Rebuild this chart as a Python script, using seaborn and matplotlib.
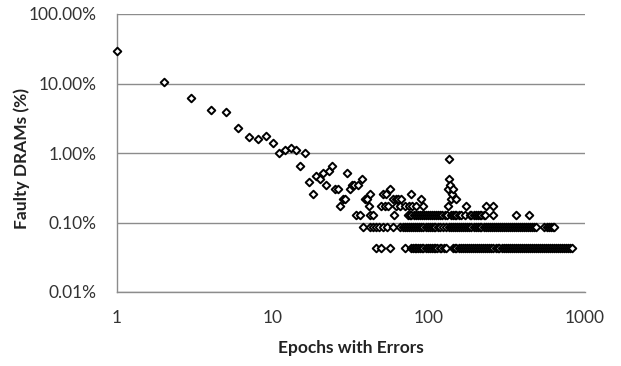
import numpy as np
import pandas as pd
import matplotlib
matplotlib.use("Agg")
import matplotlib.pyplot as plt
import seaborn as sns
from matplotlib.ticker import FixedLocator, NullLocator, FuncFormatter

# early epochs, each with its own value (% of faulty DRAMs)
ep_early = [1, 2, 3, 4, 5, 6, 7, 8, 9, 10, 11, 12, 13, 14, 15, 16, 17, 18, 19, 20,
            21, 22, 23, 24, 25, 26, 27, 28, 29, 30, 31, 32, 33, 35, 37]
pct_early = [29.6, 10.5, 6.1, 4.2, 3.9, 2.3, 1.7, 1.6, 1.75, 1.37, 1.0, 1.1, 1.17, 1.1,
             0.64, 0.99, 0.386, 0.258, 0.472, 0.429, 0.515, 0.343, 0.558, 0.644, 0.30,
             0.30, 0.172, 0.215, 0.215, 0.515, 0.30, 0.343, 0.343, 0.343, 0.429]

# spike around 134 epochs
ep_spike = [133, 134, 135, 136]
pct_spike = [0.30, 0.815, 0.429, 0.343]

# quantized levels (1..7 DRAMs out of the population), in %
levels = [0.0429, 0.0858, 0.1288, 0.1717, 0.2146, 0.2575, 0.3004]

ep_lvl1 = [46, 49, 56, 70, 77, 79, 81, 83, 85, 87, 90, 92, 95, 98, 101, 104, 107, 110,
           113, 117, 120, 124, 128,
           142, 146, 150, 155, 160, 165, 170, 175, 180, 186, 192, 198, 204, 210, 216,
           223, 230, 237, 244, 251, 259, 267, 275, 283, 292, 301, 310, 319, 329, 339,
           349, 359, 370, 381, 392, 404, 416, 429, 442, 455, 469, 483, 497, 512, 527,
           543, 559, 576, 593, 611, 629, 648, 667, 687, 708, 729, 751, 773, 796, 820]
ep_lvl2 = [38, 42, 44, 46, 48, 51, 54, 59, 65,
           68, 70, 72, 74, 77, 79, 81, 84, 86, 89, 92, 95, 98, 101, 104, 107, 110, 114,
           118, 123, 128,
           135, 139, 143, 147, 152, 156, 161, 166, 171, 176, 181, 187, 193, 199, 205,
           211, 217, 224, 231, 238, 245, 252, 260, 268, 276, 284, 293, 302, 311, 320,
           330, 340, 350, 361, 372, 383, 395, 407, 419, 432, 445, 458, 472, 487,
           550, 567, 584, 601, 619, 635]
ep_lvl3 = [34, 36, 42, 44, 60,
           73, 75, 77, 80, 82, 85, 87, 90, 93, 96, 99, 102, 105, 108, 111, 115, 118,
           122, 126, 130, 138, 142, 146, 150, 156, 161, 169,
           182, 187, 193, 199, 205, 211, 217, 224, 227, 257, 359, 437]
ep_lvl4 = [41, 49, 52, 55, 61, 65, 70, 74, 78, 83, 92, 132, 173, 233, 257]
ep_lvl5 = [39, 40, 59, 61, 63, 66, 89, 138, 149]
ep_lvl6 = [42, 51, 53, 77, 141]
ep_lvl7 = [56, 142]

ep_levels = [ep_lvl1, ep_lvl2, ep_lvl3, ep_lvl4, ep_lvl5, ep_lvl6, ep_lvl7]

rows = list(zip(ep_early, pct_early)) + list(zip(ep_spike, pct_spike))
for lv, eps in zip(levels, ep_levels):
    rows += [(e, lv) for e in eps]
df = pd.DataFrame(rows, columns=["epochs", "pct"])

sns.set_style("white")
plt.rcParams["font.family"] = ["Lato", "DejaVu Sans"]

fig = plt.figure(figsize=(6.21, 3.66), dpi=100)
ax = fig.add_axes([117 / 621, 1 - 292 / 366, 468 / 621, 278 / 366])

sns.scatterplot(data=df, x="epochs", y="pct", marker="D", s=15, facecolor="white",
                edgecolor="black", linewidth=1.4, ax=ax, zorder=3, clip_on=False)

ax.set_xscale("log")
ax.set_yscale("log")
ax.set_xlim(1, 1000)
ax.set_ylim(0.01, 100)

grey = "#8c8c8c"
ax.xaxis.set_major_locator(FixedLocator([1, 10, 100, 1000]))
ax.xaxis.set_minor_locator(NullLocator())
ax.xaxis.set_major_formatter(FuncFormatter(lambda v, p: f"{v:g}"))
ax.yaxis.set_major_locator(FixedLocator([0.01, 0.1, 1, 10, 100]))
ax.yaxis.set_minor_locator(NullLocator())
ax.yaxis.set_major_formatter(FuncFormatter(lambda v, p: f"{v:.2f}%"))

ax.grid(axis="y", color=grey, linewidth=1.0)
ax.set_axisbelow(True)
for s in ["top", "right"]:
    ax.spines[s].set_visible(False)
for s in ["left", "bottom"]:
    ax.spines[s].set_color(grey)
    ax.spines[s].set_linewidth(1.0)
ax.tick_params(axis="both", direction="out", length=5, width=1.0, color=grey,
               labelsize=12.5, labelcolor="#333333")
ax.tick_params(axis="y", pad=10)
ax.tick_params(axis="x", pad=8)

ax.set_xlabel("Epochs with Errors", fontsize=12.5, fontweight="bold", color="#222222",
              labelpad=10)
ax.set_ylabel("Faulty DRAMs (%)", fontsize=12.5, fontweight="bold", color="#222222")
ax.yaxis.set_label_coords(-0.185, 0.48)

fig.savefig("out.png", dpi=100)
